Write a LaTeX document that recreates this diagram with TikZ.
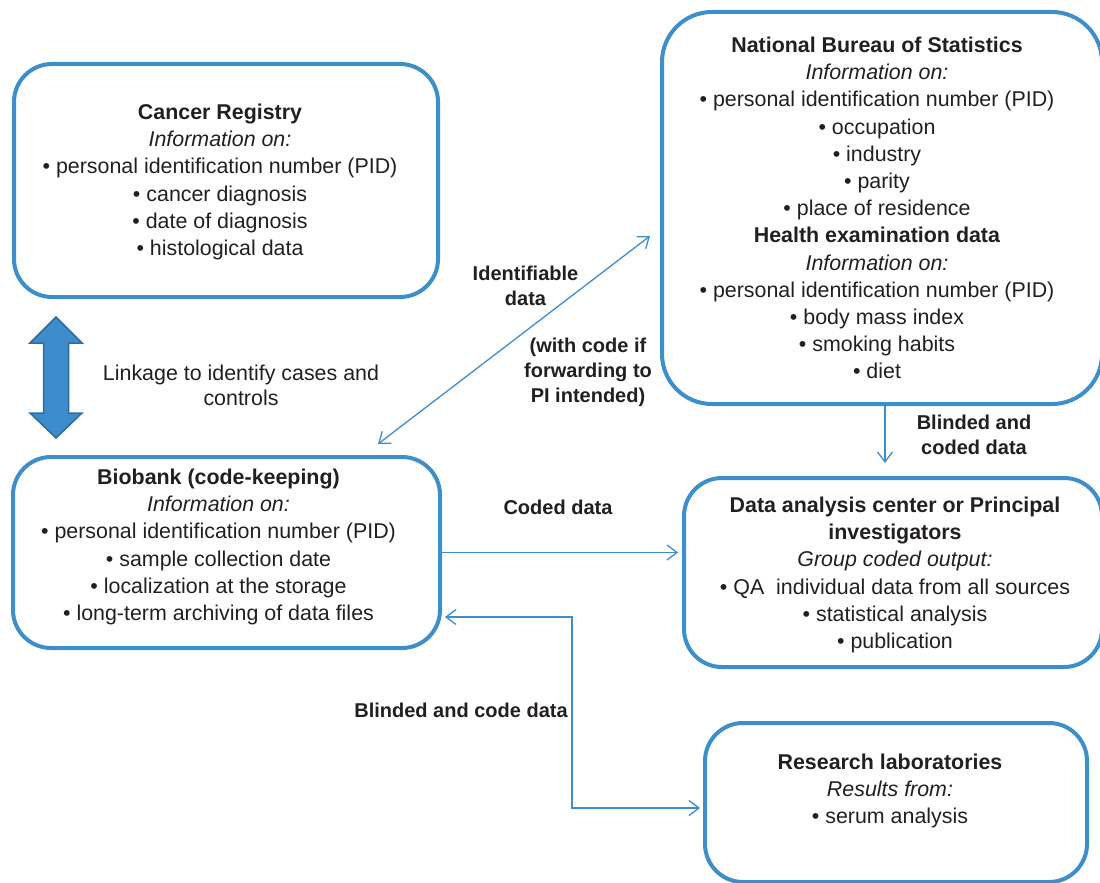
\documentclass[tikz,border=0pt]{standalone}
\usepackage{fontspec}
\setmainfont{Liberation Sans}
\usepackage{tikz}
\usetikzlibrary{arrows.meta, calc, positioning}
\definecolor{boxblue}{RGB}{61,143,204}
\definecolor{arrowfill}{RGB}{60,139,202}
\definecolor{arrowedge}{RGB}{44,108,158}
\definecolor{ink}{RGB}{35,31,32}

\begin{document}
\begin{tikzpicture}[x = 1pt, y = -1pt,
	>={Straight Barb[length = 10pt, width = 15pt]},
	box/.style = {draw = boxblue, line width = 4pt, rounded corners = 38pt, inner sep = 0pt},
	txt/.style = {text = ink, align = center, inner sep = 0pt, font = \fontsize{21.4}{27.2}\selectfont},
	lbl/.style = {text = ink, align = center, inner sep = 0pt, font = \fontsize{20}{25}\selectfont\bfseries},
	link/.style = {draw = boxblue, line width = 1.3pt}]
\useasboundingbox (0, 0) rectangle (1100, 883);
\clip (0, 0) rectangle (1100, 883);

\node[box, minimum width = 424pt, minimum height = 233pt] (cancer) at (226, 180.5) {};
\node[box, rounded corners = 50pt, minimum width = 440pt, minimum height = 392pt] (bureau) at (882, 208) {};
\node[box, minimum width = 427pt, minimum height = 191pt] (biobank) at (226.5, 552.5) {};
\node[box, minimum width = 418pt, minimum height = 189pt] (analysis) at (893, 572.5) {};
\node[box, minimum width = 382pt, minimum height = 159pt] (lab) at (896, 802.5) {};

\node[txt] (cancertext) at ($(cancer.center)+(-6, 1.5)$) {\textbf{Cancer Registry}\\
	\textit{Information on:}\\
	• personal identification number (PID)\\
	• cancer diagnosis\\
	• date of diagnosis\\
	• histological data};
\node[txt] (bureautext) at ($(bureau.center)+(-5, 0)$) {\textbf{National Bureau of Statistics}\\
	\textit{Information on:}\\
	• personal identification number (PID)\\
	• occupation\\
	• industry\\
	• parity\\
	• place of residence\\
	\textbf{Health examination data}\\
	\textit{Information on:}\\
	• personal identification number (PID)\\
	• body mass index\\
	• smoking habits\\
	• diet};
\node[txt] (biobanktext) at ($(biobank.center)+(-8, -5.5)$) {\textbf{Biobank (code-keeping)}\\
	\textit{Information on:}\\
	• personal identification number (PID)\\
	• sample collection date\\
	• localization at the storage\\
	• long-term archiving of data files};
\node[txt] (analysistext) at ($(analysis.center)+(2, 2.5)$) {\textbf{Data analysis center or Principal}\\
	\textbf{investigators}\\
	\textit{Group coded output:}\\
	• QA~ individual data from all sources\\
	• statistical analysis\\
	• publication};
\node[txt] (labtext) at ($(lab.center)+(-6, -11.5)$) {\textbf{Research laboratories}\\
	\textit{Results from:}\\
	• serum analysis};

% linkage arrow
\draw[fill = arrowfill, draw = arrowedge, line width = 1.5pt, line join = miter]
	(56, 317) -- (82, 343) -- (68.5, 343) -- (68.5, 413) -- (82, 413) --
	(56, 438) -- (30, 413) -- (43.5, 413) -- (43.5, 343) -- (30, 343) -- cycle;
\node[txt, font = \fontsize{21.4}{25}\selectfont] (linkage) at (241, 385.5) {Linkage to identify cases and\\controls};

\coordinate (idbio) at (378, 444);
\coordinate (idnbs) at (650, 236);
\coordinate (bend) at (572, 808);
\draw[link, <->] (idbio) -- (idnbs);
\draw[link, ->] ($(bureau.south)+(3, 0)$) -- ($(analysis.north)+(-8, -13)$);
\draw[link, ->] (biobank.east) -- ($(biobank.east -| analysis.west)+(-4, 0)$);
\draw[link, <->] ($(biobank.east)+(3, 64.5)$) -| (bend) -- ($(lab.west)+(-3, 5.5)$);

\node[lbl] (identlbl) at (525.5, 285.5) {Identifiable\\data};
\node[lbl] (codelbl) at (588, 372.5) {(with code if\\forwarding to\\PI intended)};
\node[lbl] (blindlbl) at (974, 434.5) {Blinded and\\coded data};
\node[lbl] (codedlbl) at (558, 507) {Coded data};
\node[lbl] (blindcodelbl) at (461, 710) {Blinded and code data};
\end{tikzpicture}
\end{document}
